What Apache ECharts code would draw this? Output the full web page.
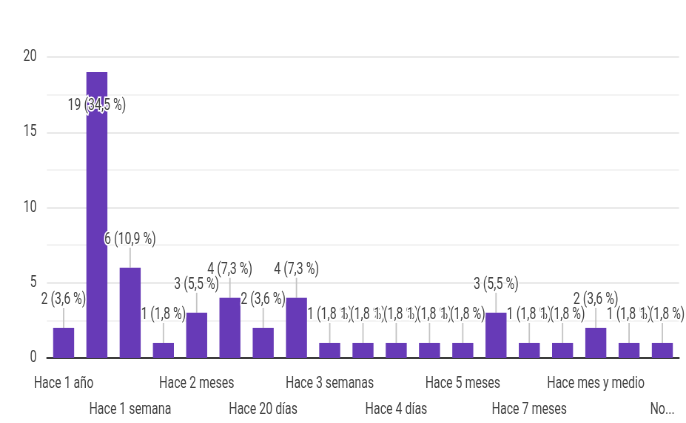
<!DOCTYPE html>
<html>
<head>
<meta charset="utf-8">
<script src="https://cdn.jsdelivr.net/npm/echarts@6/dist/echarts.min.js"></script>
<style>
  html, body { margin: 0; padding: 0; background: #fff; overflow: hidden; width: 686px; height: 423px; }
  #frame { position: absolute; left: 4px; top: 2px; width: 675px; height: 440px; border: 2px solid #e2e2e2; }
  #chart { position: absolute; left: 0; top: 0; width: 927px; height: 423px; transform: scaleX(0.74); transform-origin: 0 0; }
</style>
</head>
<body>
<div id="frame"></div>
<div id="chart"></div>
<script>
// Responses per answer, in alphabetical answer order
const categories = [
  'Hace 1 año', 'Hace 1 mes', 'Hace 1 semana', 'Hace 15 días', 'Hace 2 meses',
  'Hace 2 semanas', 'Hace 20 días', 'Hace 3 meses', 'Hace 3 semanas', 'Hace 4 años',
  'Hace 4 días', 'Hace 4 meses', 'Hace 5 meses', 'Hace 6 meses', 'Hace 7 meses',
  'Hace 8 meses', 'Hace mes y medio', 'Hace un mes', 'No...'
];
const counts = [2, 19, 6, 1, 3, 4, 2, 4, 1, 1, 1, 1, 1, 3, 1, 1, 2, 1, 1];
const yTicks = [0, 5, 10, 15, 20];

const total = counts.reduce((a, b) => a + b, 0);
const yMin = yTicks[0];
const yMax = yTicks[yTicks.length - 1];
const yStep = yTicks[1] - yTicks[0];

const BAR = '#673ab7';
const TEXT = '#444';
const LEADER = '#c4c4c4';
const FONT = 'Roboto, "Liberation Sans", Arial, sans-serif';
const FONT_SIZE = 16;
const LEAD_LEN = 20;

function pctLabel(v) {
  return v + ' (' + (v / total * 100).toFixed(1).replace('.', ',') + ' %)';
}
// Values too close to the top get their label tucked inside the bar
function isInside(v) { return v > yMax - 2; }

const barData = counts.map(v => isInside(v)
  ? { value: v, label: { position: 'insideTop', distance: 26 } }
  : v);

const chart = echarts.init(document.getElementById('chart'), null, { renderer: 'canvas' });

chart.setOption({
  animation: false,
  backgroundColor: '#fff',
  textStyle: { fontFamily: FONT },
  grid: { left: 63.5, right: 9.5, top: 57, bottom: 65, containLabel: false },
  xAxis: {
    type: 'category',
    data: categories,
    axisLine: { show: true, lineStyle: { color: '#3d3d3d', width: 2 } },
    axisTick: { show: false },
    axisLabel: {
      interval: 0,
      margin: 13,
      color: TEXT,
      fontSize: FONT_SIZE,
      fontFamily: FONT,
      lineHeight: 26,
      formatter: (name, idx) => idx % 4 === 0 ? name : (idx % 4 === 2 ? '\n' + name : '')
    }
  },
  yAxis: {
    type: 'value',
    min: yMin,
    max: yMax,
    interval: yStep,
    axisLine: { show: false },
    axisTick: { show: false },
    axisLabel: { color: TEXT, fontSize: FONT_SIZE, fontFamily: FONT, margin: 14 },
    splitLine: { lineStyle: { color: '#e4e4e4', width: 1.5 } },
    minorTick: { show: false, splitNumber: 2 },
    minorSplitLine: { show: true, lineStyle: { color: '#f1f1f1', width: 1.5 } }
  },
  series: [
    {
      type: 'bar',
      data: barData,
      barWidth: 28.4,
      itemStyle: { color: BAR },
      z: 2,
      label: {
        show: true,
        position: 'top',
        distance: LEAD_LEN,
        color: TEXT,
        fontSize: FONT_SIZE,
        fontFamily: FONT,
        textBorderColor: '#fff',
        textBorderWidth: 3,
        formatter: p => pctLabel(p.value)
      }
    },
    {
      // leader lines joining each value label to its bar
      type: 'custom',
      z: 2,
      silent: true,
      data: counts.map((v, i) => [i, v]),
      renderItem: (params, api) => {
        const v = api.value(1);
        const p = api.coord([api.value(0), v]);
        const y2 = isInside(v) ? p[1] + LEAD_LEN + 3 : p[1] - LEAD_LEN;
        return {
          type: 'line',
          shape: { x1: p[0], y1: p[1], x2: p[0], y2: y2 },
          style: { stroke: LEADER, lineWidth: 1.8 }
        };
      }
    }
  ]
});
</script>
</body>
</html>
